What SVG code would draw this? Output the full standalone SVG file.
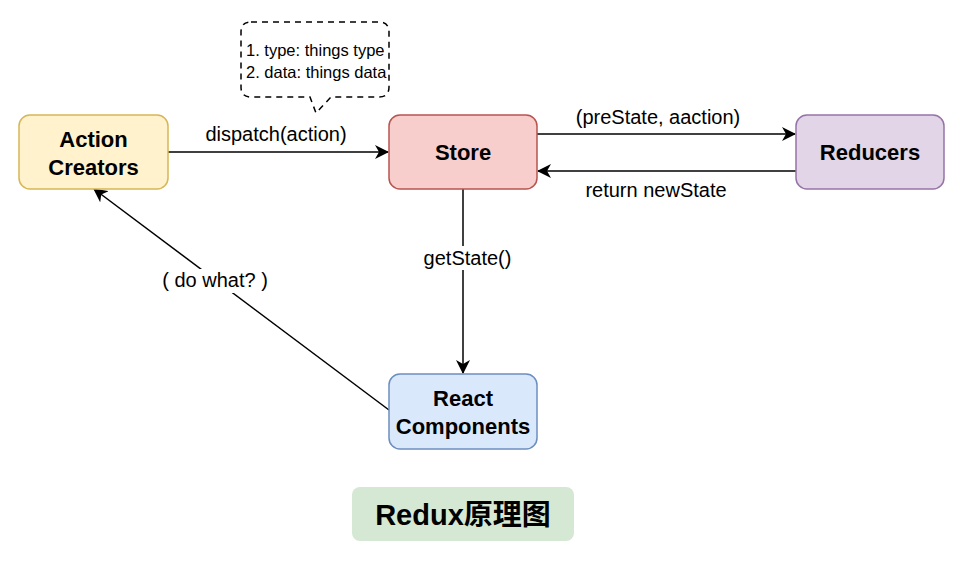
<svg xmlns="http://www.w3.org/2000/svg" width="964" height="563" viewBox="0 0 964 563">
<style>
.node{stroke-width:1.5}
.lbl{font-family:"Liberation Sans",Arial,sans-serif;font-weight:bold;font-size:22px;fill:#000;text-anchor:middle}
.edge{stroke:#000;stroke-width:1.5;fill:none}
.et{font-family:"Liberation Sans",Arial,sans-serif;font-size:20px;fill:#000;text-anchor:middle}
.note{font-family:"Liberation Sans",Arial,sans-serif;font-size:16.5px;fill:#000}
</style>
<defs>
<marker id="arr" viewBox="0 0 14 14" refX="13" refY="7" markerWidth="14" markerHeight="14" markerUnits="userSpaceOnUse" orient="auto">
<path d="M0,0 L14,7 L0,14 L4,7 z" fill="#000"/>
</marker>
</defs>
<rect width="964" height="563" fill="#fff"/>
<g id="connectors">
<line class="edge" x1="168" y1="152" x2="388" y2="152" marker-end="url(#arr)"/>
<line class="edge" x1="537" y1="134" x2="795" y2="134" marker-end="url(#arr)"/>
<line class="edge" x1="796" y1="171" x2="538" y2="171" marker-end="url(#arr)"/>
<line class="edge" x1="463" y1="189" x2="463" y2="373" marker-end="url(#arr)"/>
<line class="edge" x1="389" y1="410" x2="94" y2="189" marker-end="url(#arr)"/>
<text class="et" x="276" y="141">dispatch(action)</text>
<text class="et" x="658" y="124">(preState, aaction)</text>
<text class="et" x="656" y="197">return newState</text>
<rect x="421" y="246" width="93" height="24" fill="#fff"/>
<text class="et" x="467.5" y="265">getState()</text>
<rect x="160" y="269" width="110" height="24" fill="#fff"/>
<text class="et" x="215" y="287">( do what? )</text>
</g>
<g id="callout">
<path d="M251,22 H379 Q389,22 389,32 V87 Q389,97 379,97 H331 L316,113 L310,97 H251 Q241,97 241,87 V32 Q241,22 251,22 Z" fill="#fff" stroke="#000" stroke-width="1.5" stroke-dasharray="6,5"/>
<text class="note" x="246" y="56">1. type: things type</text>
<text class="note" x="246" y="78">2. data: things data</text>
</g>
<g id="action-creators">
<rect class="node" x="19" y="115" width="149" height="74" rx="11" fill="#fff2cc" stroke="#d6b656"/>
<text class="lbl" x="93.5" y="147">Action</text>
<text class="lbl" x="93.5" y="175">Creators</text>
</g>
<g id="store">
<rect class="node" x="389" y="115" width="148" height="74" rx="11" fill="#f8cecc" stroke="#b85450"/>
<text class="lbl" x="463" y="160">Store</text>
</g>
<g id="reducers">
<rect class="node" x="796" y="115" width="148" height="74" rx="11" fill="#e1d5e7" stroke="#9673a6"/>
<text class="lbl" x="870" y="160">Reducers</text>
</g>
<g id="react-components">
<rect class="node" x="389" y="374" width="148" height="75" rx="11" fill="#dae8fc" stroke="#6c8ebf"/>
<text class="lbl" x="463" y="406">React</text>
<text class="lbl" x="463" y="434">Components</text>
</g>
<g id="title">
<rect x="352" y="487" width="222" height="54" rx="8" fill="#d5e8d4"/>
<text x="463" y="525" text-anchor="middle" font-family="'Liberation Sans','Noto Sans CJK SC',sans-serif" font-weight="bold" font-size="29px" fill="#000">Redux原理图</text>
</g>
</svg>
